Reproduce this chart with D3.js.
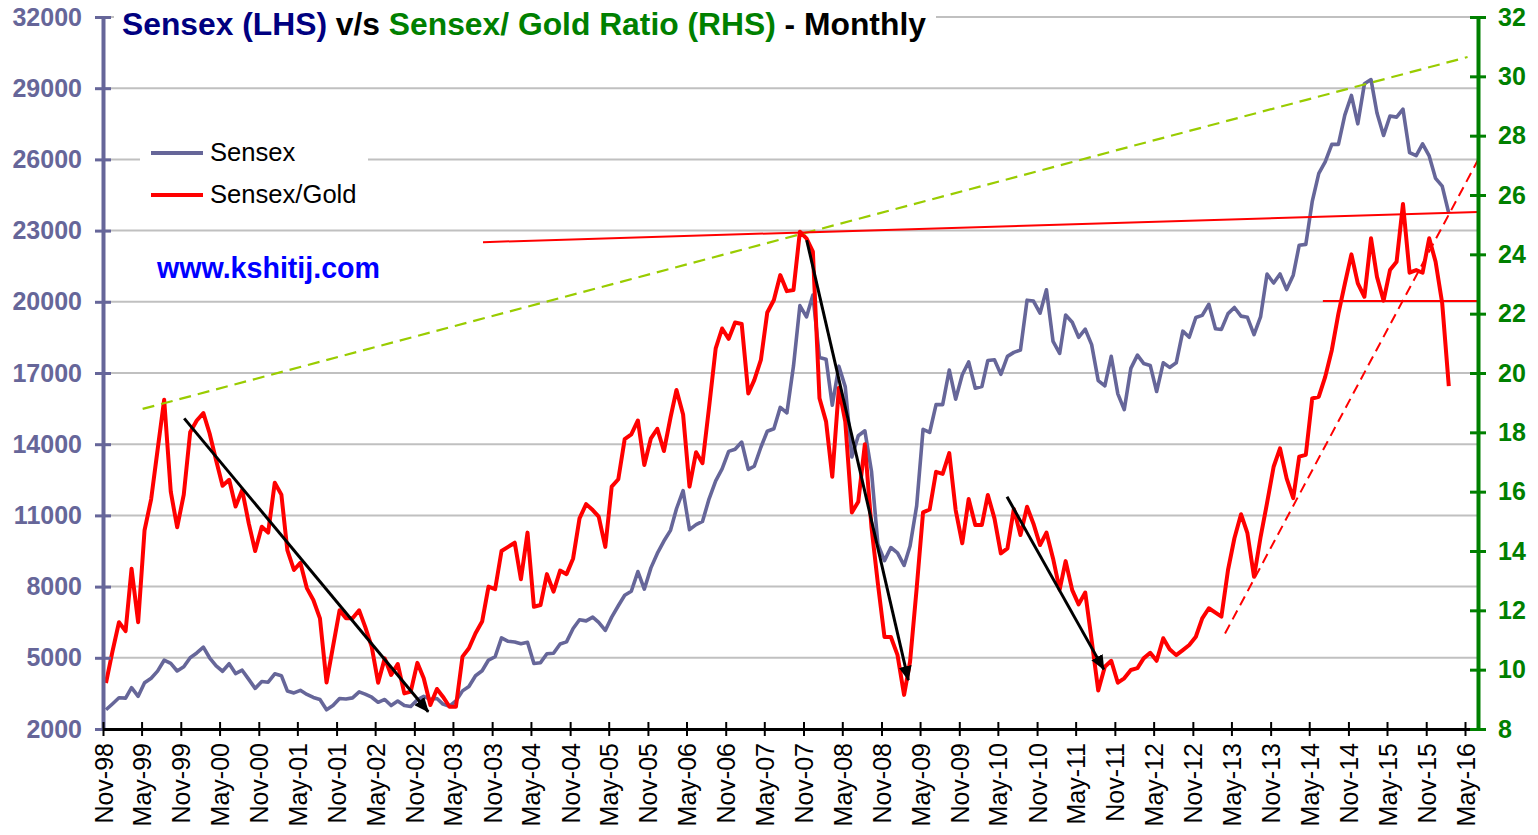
<!DOCTYPE html>
<html>
<head>
<meta charset="utf-8">
<script src="https://cdn.jsdelivr.net/npm/d3@7"></script>
<style>
body { margin: 0; background: #fff; }
text { font-family: "Liberation Sans", Arial, sans-serif; }
</style>
</head>
<body>
<div id="chart"></div>
<script>
// monthly categories, Nov-98 .. Feb-16
var months = d3.timeMonth.range(new Date(1998, 10, 1), new Date(2016, 2, 1));

var sensex = [
  2810, 3055,
  3315, 3299, 3740, 3378, 3946, 4140, 4440, 4899, 4764, 4444, 4622, 5005,
  5205, 5446, 5001, 4657, 4433, 4748, 4334, 4477, 4090, 3711, 3998, 3972,
  4326, 4247, 3604, 3519, 3631, 3457, 3329, 3245, 2811, 2989, 3287, 3262,
  3311, 3562, 3469, 3338, 3125, 3245, 2988, 3181, 2991, 2950, 3229, 3377,
  3250, 3283, 3049, 2960, 3181, 3607, 3792, 4244, 4453, 4906, 5044, 5839,
  5696, 5667, 5591, 5655, 4760, 4795, 5170, 5192, 5584, 5672, 6234, 6603,
  6556, 6713, 6493, 6154, 6715, 7194, 7636, 7806, 8634, 7892, 8789, 9398,
  9920, 10370, 11280, 12043, 10399, 10609, 10744, 11699, 12454, 12962, 13696, 13787,
  14091, 12938, 13072, 13872, 14544, 14651, 15551, 15319, 17291, 19838, 19363, 20287,
  17649, 17579, 15644, 17287, 16416, 13462, 14356, 14565, 12860, 9788, 9093, 9647,
  9424, 8892, 9709, 11403, 14625, 14494, 15670, 15667, 17127, 15896, 16926, 17465,
  16358, 16430, 17528, 17559, 16945, 17701, 17868, 17971, 20069, 20032, 19521, 20509,
  18328, 17823, 19445, 19136, 18503, 18846, 18197, 16677, 16454, 17705, 16123, 15455,
  17194, 17753, 17404, 17319, 16219, 17430, 17236, 17430, 18763, 18505, 19340, 19427,
  19895, 18862, 18836, 19504, 19760, 19396, 19346, 18620, 19380, 21165, 20792, 21171,
  20514, 21120, 22386, 22418, 24217, 25414, 25895, 26638, 26631, 27866, 28694, 27499,
  29183, 29362, 27957, 27011, 27828, 27781, 28115, 26283, 26155, 26657, 26146, 25200,
  24871, 23730
];

var ratio = [
  9.55, 10.6,
  11.6, 11.3, 13.4, 11.6, 14.7, 15.75, 17.4, 19.1, 16.0, 14.8, 15.9, 18.0,
  18.4, 18.65, 17.97, 17.05, 16.2, 16.4, 15.5, 16.06, 14.93, 14.0, 14.82, 14.62,
  16.3, 15.9, 14.03, 13.36, 13.6, 12.74, 12.35, 11.73, 9.57, 10.77, 12.0, 11.73,
  11.73, 12.0, 11.45, 10.77, 9.56, 10.38, 9.82, 10.19, 9.2, 9.26, 10.23, 9.71,
  8.81, 9.35, 9.09, 8.75, 8.75, 10.44, 10.72, 11.23, 11.62, 12.8, 12.71, 14.0,
  14.14, 14.28, 13.05, 14.62, 12.12, 12.18, 13.22, 12.63, 13.34, 13.22, 13.75, 15.1,
  15.58, 15.38, 15.16, 14.14, 16.17, 16.42, 17.77, 17.93, 18.4, 16.9, 17.8, 18.12,
  17.37, 18.5, 19.43, 18.6, 16.17, 17.33, 16.96, 18.85, 20.83, 21.5, 21.15, 21.7,
  21.65, 19.31, 19.76, 20.44, 22.04, 22.46, 23.3, 22.76, 22.8, 24.76, 24.54, 24.09,
  19.15, 18.36, 16.5, 19.5, 18.36, 15.3, 15.66, 17.6, 14.8, 12.9, 11.1, 11.1,
  10.5, 9.15, 10.27, 12.74, 15.3, 15.4, 16.67, 16.6, 17.3, 15.38, 14.26, 15.75,
  14.88, 14.88, 15.89, 15.1, 13.92, 14.09, 15.42, 14.54, 15.49, 14.92, 14.2, 14.62,
  13.75, 12.7, 13.66, 12.68, 12.2, 12.6, 11.0, 9.3, 10.1, 10.3, 9.56, 9.71,
  9.99, 10.05, 10.38, 10.57, 10.3, 11.06, 10.69, 10.49, 10.66, 10.83, 11.11, 11.73,
  12.07, 11.92, 11.79, 13.36, 14.43, 15.24, 14.6, 13.13, 14.48, 15.61, 16.84, 17.46,
  16.45, 15.78, 17.18, 17.24, 19.14, 19.2, 19.87, 20.77, 22.0, 23.0, 24.0, 23.02,
  22.57, 24.54, 23.24, 22.44, 23.47, 23.75, 25.7, 23.38, 23.47, 23.38, 24.54, 23.75,
  22.35, 19.56
];

var leftTicks = d3.range(2000, 32001, 3000);
var rightTicks = d3.range(8, 33, 2);
var xTicks = d3.timeMonth.range(new Date(1998, 10, 1), new Date(2016, 5, 1), 6);

// trend lines and arrows drawn on the chart (date, ratio)
var trendGreen = [[new Date(1999, 4, 6), 18.79], [new Date(2016, 4, 13), 30.65]];
var trendRedTop = [[new Date(2003, 8, 19), 24.41], [new Date(2016, 6, 1), 25.43]];
var trendRedFlat = [[new Date(2014, 6, 4), 22.43], [new Date(2016, 6, 1), 22.43]];
var trendRedDash = [[new Date(2013, 3, 1), 11.22], [new Date(2016, 6, 1), 27.18]];
var arrows = [
  [[new Date(1999, 10, 17), 18.47], [new Date(2003, 0, 5), 8.58]],
  [[new Date(2007, 10, 16), 24.48], [new Date(2009, 2, 7), 9.65]],
  [[new Date(2010, 5, 13), 15.83], [new Date(2011, 8, 10), 10.01]]
];

var svgWidth = 1538, svgHeight = 835;
var plotLeft = 103, plotRight = 1478, plotTop = 17, plotBottom = 729;

var svg = d3.select("#chart").append("svg")
  .attr("width", svgWidth)
  .attr("height", svgHeight);

svg.append("rect").attr("width", svgWidth).attr("height", svgHeight).attr("fill", "#fff");

var x = d3.scaleTime()
  .domain([new Date(1998, 10, 1), new Date(2016, 6, 1)])
  .range([plotLeft, plotRight]);
var yL = d3.scaleLinear().domain([2000, 32000]).range([plotBottom, plotTop]);
var yR = d3.scaleLinear().domain([8, 32]).range([plotBottom, plotTop]);

var data = months.map(function(m, i) {
  return { date: d3.timeDay.offset(m, 14), sensex: sensex[i], ratio: ratio[i] };
});

// gridlines
svg.append("g").selectAll("line")
  .data(leftTicks.slice(1))
  .enter().append("line")
  .attr("x1", plotLeft).attr("x2", plotRight)
  .attr("y1", d => yL(d)).attr("y2", d => yL(d))
  .attr("stroke", "#c0c0c0")
  .attr("stroke-width", 2);

// series
var lineSensex = d3.line().x(d => x(d.date)).y(d => yL(d.sensex));
var lineRatio = d3.line().x(d => x(d.date)).y(d => yR(d.ratio));

svg.append("path").datum(data)
  .attr("d", lineSensex)
  .attr("fill", "none")
  .attr("stroke", "#666699")
  .attr("stroke-width", 3.6)
  .attr("stroke-linejoin", "round");

svg.append("path").datum(data)
  .attr("d", lineRatio)
  .attr("fill", "none")
  .attr("stroke", "#ff0000")
  .attr("stroke-width", 4)
  .attr("stroke-linejoin", "round");

// trend lines
var seg = d3.line().x(d => x(d[0])).y(d => yR(d[1]));

svg.append("path").attr("d", seg(trendGreen))
  .attr("fill", "none").attr("stroke", "#99cc00")
  .attr("stroke-width", 2.2).attr("stroke-dasharray", "12,7");
svg.append("path").attr("d", seg(trendRedTop))
  .attr("fill", "none").attr("stroke", "#ff0000").attr("stroke-width", 2);
svg.append("path").attr("d", seg(trendRedFlat))
  .attr("fill", "none").attr("stroke", "#ff0000").attr("stroke-width", 2);
svg.append("path").attr("d", seg(trendRedDash))
  .attr("fill", "none").attr("stroke", "#ff0000")
  .attr("stroke-width", 2).attr("stroke-dasharray", "10,6");

// arrows
svg.append("defs").append("marker")
  .attr("id", "head")
  .attr("viewBox", "0 0 14 12")
  .attr("markerUnits", "userSpaceOnUse")
  .attr("markerWidth", 15).attr("markerHeight", 13)
  .attr("refX", 13).attr("refY", 6)
  .attr("orient", "auto")
  .append("path").attr("d", "M0,0L14,6L0,12Z").attr("fill", "#000");

svg.append("g").selectAll("path")
  .data(arrows)
  .enter().append("path")
  .attr("d", seg)
  .attr("fill", "none")
  .attr("stroke", "#000")
  .attr("stroke-width", 3)
  .attr("marker-end", "url(#head)");

// axes
var gLeft = svg.append("g")
  .attr("transform", `translate(${plotLeft},0)`)
  .call(d3.axisLeft(yL).tickValues(leftTicks).tickSize(0).tickPadding(21).tickFormat(d3.format("d")));
gLeft.select(".domain").attr("stroke", "#666699").attr("stroke-width", 4);
gLeft.selectAll(".tick line").attr("x1", -8).attr("x2", 8).attr("stroke", "#666699").attr("stroke-width", 3);
gLeft.selectAll(".tick text")
  .style("font-size", "25px").style("font-weight", "bold")
  .style("font-family", "'Liberation Sans', Arial, sans-serif")
  .attr("fill", "#666699");

var gX = svg.append("g")
  .attr("transform", `translate(0,${plotBottom})`)
  .call(d3.axisBottom(x).tickValues(xTicks).tickFormat(d3.timeFormat("%b-%y")).tickSize(0));
gX.select(".domain").attr("stroke", "#000").attr("stroke-width", 3);
gX.selectAll(".tick line").attr("y1", -7).attr("y2", 7).attr("stroke", "#000").attr("stroke-width", 2);
gX.selectAll(".tick text")
  .attr("transform", "rotate(-90)")
  .attr("x", -14).attr("y", 0).attr("dy", "0.36em")
  .style("text-anchor", "end")
  .style("font-size", "25px")
  .style("font-family", "'Liberation Sans', Arial, sans-serif")
  .attr("fill", "#000");

var gRight = svg.append("g")
  .attr("transform", `translate(${plotRight},0)`)
  .call(d3.axisRight(yR).tickValues(rightTicks).tickSize(0).tickPadding(20));
gRight.select(".domain").attr("stroke", "#008000").attr("stroke-width", 4);
gRight.selectAll(".tick line").attr("x1", -8).attr("x2", 8).attr("stroke", "#008000").attr("stroke-width", 3);
gRight.selectAll(".tick text")
  .style("font-size", "25px").style("font-weight", "bold")
  .style("font-family", "'Liberation Sans', Arial, sans-serif")
  .attr("fill", "#008000");

// title
svg.append("rect").attr("x", 114).attr("y", 0).attr("width", 822).attr("height", 44).attr("fill", "#fff");
var title = svg.append("text")
  .attr("x", 122).attr("y", 35)
  .style("font-size", "31.8px").style("font-weight", "bold");
title.append("tspan").attr("fill", "#000080").text("Sensex (LHS)");
title.append("tspan").attr("fill", "#000").text(" v/s ");
title.append("tspan").attr("fill", "#008000").text("Sensex/ Gold Ratio (RHS)");
title.append("tspan").attr("fill", "#000").text(" - Monthly");

// legend
var legend = svg.append("g");
legend.append("rect").attr("x", 140).attr("y", 128).attr("width", 228).attr("height", 90).attr("fill", "#fff");
var legendItems = [["Sensex", "#666699"], ["Sensex/Gold", "#ff0000"]];
legendItems.forEach(function(item, i) {
  legend.append("line")
    .attr("x1", 151).attr("x2", 203)
    .attr("y1", 153 + i * 42).attr("y2", 153 + i * 42)
    .attr("stroke", item[1]).attr("stroke-width", 4);
  legend.append("text")
    .attr("x", 210).attr("y", 161 + i * 42)
    .style("font-size", "25.6px")
    .attr("fill", "#000")
    .text(item[0]);
});

svg.append("text")
  .attr("x", 157).attr("y", 278)
  .style("font-size", "28.6px").style("font-weight", "bold")
  .attr("fill", "#0000ff")
  .text("www.kshitij.com");
</script>
</body>
</html>
